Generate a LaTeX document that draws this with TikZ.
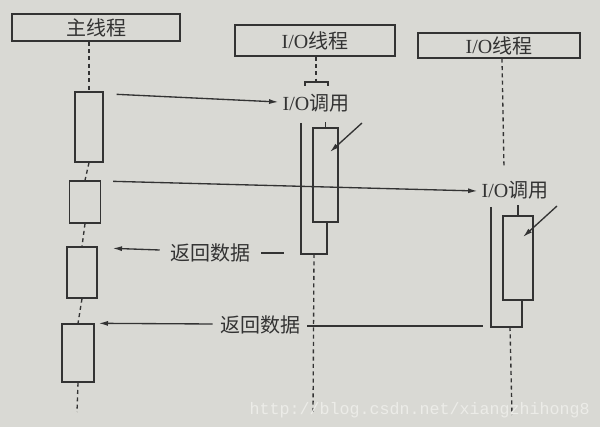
\documentclass[tikz,border=0pt]{standalone}
\usepackage{fontspec}
\setmainfont{Liberation Serif}
\newfontfamily\cjk{Noto Sans CJK SC}
\newfontfamily\wmfont{Liberation Mono}
\usetikzlibrary{arrows.meta,calc}
\definecolor{paper}{HTML}{D9D9D4}
\definecolor{ink}{HTML}{333333}
\definecolor{wm}{HTML}{ECECE8}
\newcommand{\ioword}[1]{I/O{\cjk #1}}
\begin{document}
\begin{tikzpicture}[x=0.75pt,y=-0.75pt,
  ln/.style={draw=ink,line width=1pt},
  life/.style={draw=ink,line width=1pt,dash pattern=on 3pt off 2.5pt},
  arr/.style={ln,-{Latex[length=7pt,width=3.8pt]}},
  head/.style={draw=ink,line width=1.1pt,fill=paper,inner sep=0pt,text=ink,font=\fontsize{15}{15}\selectfont},
  actbox/.style={draw=ink,line width=1pt,fill=paper,inner sep=0pt},
  lbl/.style={text=ink,inner sep=0pt,font=\fontsize{15}{15}\selectfont}]
\fill[paper] (0,0) rectangle (600,427);
\useasboundingbox (0,0) rectangle (600,427);
% headers
\node[head,minimum width=126pt,minimum height=20.25pt] (h1) at (96,27.5) {\cjk 主线程};
\node[head,minimum width=120pt,minimum height=23.25pt] (h2) at (315,40.5) {\ioword{线程}};
\node[head,minimum width=121.5pt,minimum height=18.75pt] (h3) at (499,45.5) {\ioword{线程}};
% main thread activation boxes
\node[actbox,minimum width=21pt,minimum height=52.5pt] (b1) at (89,127) {};
\node[actbox,minimum width=23.25pt,minimum height=31.5pt] (b2) at (85,202) {};
\node[actbox,minimum width=22.5pt,minimum height=38.25pt] (b3) at (82,272.5) {};
\node[actbox,minimum width=24pt,minimum height=43.5pt] (b4) at (78,353) {};
\coordinate (mainend) at (77,412);
\draw[life] (h1.south -| b1.north) -- (b1.north);
\draw[life] (b1.south) -- (b2.north);
\draw[life] (b2.south) -- (b3.north);
\draw[life] (b3.south) -- (b4.north);
\draw[life] (b4.south) -- (mainend);
% middle I/O thread
\coordinate (br) at (316,82);
\draw[life] (h2.south -| br) -- (br);
\draw[ln] (305,86) -- (305,82) -- (328,82) -- (328,86);
\node[lbl] (m1) at (316,103) {\ioword{调用}};
\draw[ln] (301,123) -- (301,254) -- (327,254) -- (327,222);
\node[actbox,minimum width=18.75pt,minimum height=70.5pt] (i1) at (325.5,175) {};
\draw[ln] (i1.north) -- ++(0,-5);
\coordinate (p1s) at (362,123);
\coordinate (p1e) at (330,152);
\draw[arr] (p1s) -- (p1e);
\coordinate (m_top) at (314,254);
\coordinate (m_end) at (313,415);
\draw[life] (m_top) -- (m_end);
% right I/O thread
\coordinate (rl) at (504,168);
\draw[life] (h3.south -| 502,0) -- (rl);
\node[lbl] (m2) at (515,190) {\ioword{调用}};
\draw[ln] (491,207) -- (491,327) -- (522,327) -- (522,300);
\node[actbox,minimum width=22.5pt,minimum height=63pt] (i2) at (518,258) {};
\draw[ln] (i2.north) -- ++(0,-10);
\coordinate (p2s) at (557,206);
\coordinate (p2e) at (523,237);
\draw[arr] (p2s) -- (p2e);
\coordinate (r_top) at (510,327);
\coordinate (r_end) at (512,415);
\draw[life] (r_top) -- (r_end);
% calls
\draw[arr] ($(b1.north east)+(13,3)$) -- ($(m1.west)+(-4,-1)$);
\draw[arr] ($(b2.north east)+(12,1)$) -- ($(m2.west)+(-4,1)$);
% returns
\node[lbl] (t1) at (210,253) {\cjk 返回数据};
\draw[arr] ($(t1.west)+(-10,-3)$) -- ($(b3.north east)+(15,2)$);
\draw[ln] ($(t1.east)+(11,0)$) -- ++(23,0);
\node[lbl] (t2) at (260,325) {\cjk 返回数据};
\draw[arr] ($(t2.west)+(-7,-1)$) -- ($(b4.north east)+(4,0)$);
\draw[ln] ($(t2.east)+(7,1)$) -- (483,326);
% watermark
\node[anchor=east,text=wm,inner sep=0pt,font=\wmfont\fontsize{12.5}{12.5}\selectfont] (wmk) at (590,410) {http://blog.csdn.net/xiangzhihong8};
\end{tikzpicture}
\end{document}
